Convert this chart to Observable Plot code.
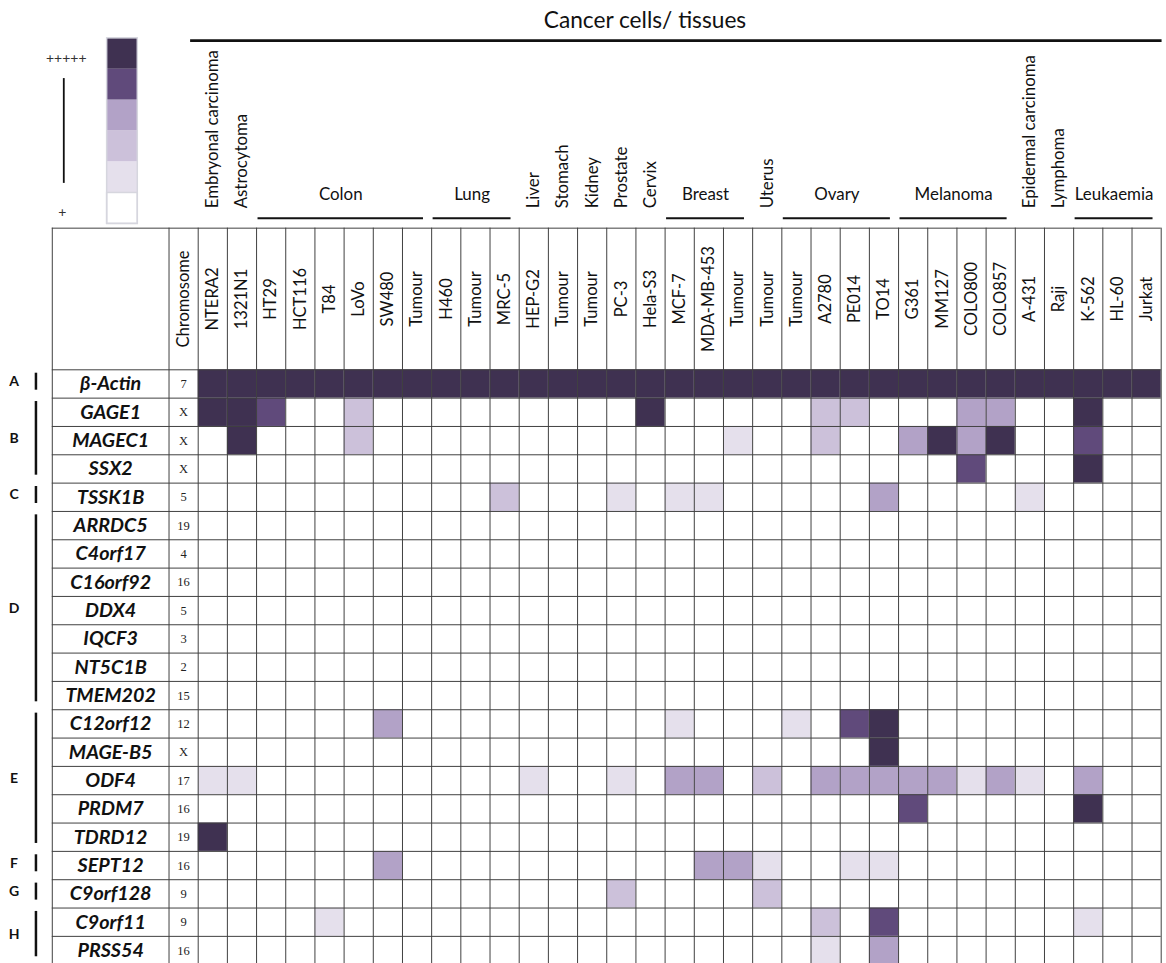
<!DOCTYPE html>
<html><head><meta charset="utf-8">
<script src="https://cdn.jsdelivr.net/npm/d3@7"></script>
<script src="https://cdn.jsdelivr.net/npm/@observablehq/plot@0.6"></script>
<style>
html,body{margin:0;padding:0;background:#fff;overflow:hidden}
#chart svg{display:block}
</style></head><body><div id="chart"></div>
<script>
// ---- data ----
const title = "Cancer cells/ tissues";
const columns = ["NTERA2","1321N1","HT29","HCT116","T84","LoVo","SW480","Tumour","H460","Tumour","MRC-5","HEP-G2","Tumour","Tumour","PC-3","Hela-S3","MCF-7","MDA-MB-453","Tumour","Tumour","Tumour","A2780","PE014","TO14","G361","MM127","COLO800","COLO857","A-431","Raji","K-562","HL-60","Jurkat"];
const tissue = ["Embryonal carcinoma","Astrocytoma","Colon","Colon","Colon","Colon","Colon","Colon","Lung","Lung","Lung","Liver","Stomach","Kidney","Prostate","Cervix","Breast","Breast","Breast","Uterus","Ovary","Ovary","Ovary","Ovary","Melanoma","Melanoma","Melanoma","Melanoma","Epidermal carcinoma","Lymphoma","Leukaemia","Leukaemia","Leukaemia"];
const genes = ["β-Actin","GAGE1","MAGEC1","SSX2","TSSK1B","ARRDC5","C4orf17","C16orf92","DDX4","IQCF3","NT5C1B","TMEM202","C12orf12","MAGE-B5","ODF4","PRDM7","TDRD12","SEPT12","C9orf128","C9orf11","PRSS54"];
const geneGroup = ["A","B","B","B","C","D","D","D","D","D","D","D","E","E","E","E","E","F","G","H","H"];
const chromosomes = ["7","X","X","X","5","19","4","16","5","3","2","15","12","X","17","16","19","16","9","9","16"];
// expression level per gene (0 = none ... 5 = +++++), one value per column
const expression = [
 [5,5,5,5,5,5,5,5,5,5,5,5,5,5,5,5,5,5,5,5,5,5,5,5,5,5,5,5,5,5,5,5,5],
 [5,5,4,0,0,2,0,0,0,0,0,0,0,0,0,5,0,0,0,0,0,2,2,0,0,0,3,3,0,0,5,0,0],
 [0,5,0,0,0,2,0,0,0,0,0,0,0,0,0,0,0,0,1,0,0,2,0,0,3,5,3,5,0,0,4,0,0],
 [0,0,0,0,0,0,0,0,0,0,0,0,0,0,0,0,0,0,0,0,0,0,0,0,0,0,4,0,0,0,5,0,0],
 [0,0,0,0,0,0,0,0,0,0,2,0,0,0,1,0,1,1,0,0,0,0,0,3,0,0,0,0,1,0,0,0,0],
 [0,0,0,0,0,0,0,0,0,0,0,0,0,0,0,0,0,0,0,0,0,0,0,0,0,0,0,0,0,0,0,0,0],
 [0,0,0,0,0,0,0,0,0,0,0,0,0,0,0,0,0,0,0,0,0,0,0,0,0,0,0,0,0,0,0,0,0],
 [0,0,0,0,0,0,0,0,0,0,0,0,0,0,0,0,0,0,0,0,0,0,0,0,0,0,0,0,0,0,0,0,0],
 [0,0,0,0,0,0,0,0,0,0,0,0,0,0,0,0,0,0,0,0,0,0,0,0,0,0,0,0,0,0,0,0,0],
 [0,0,0,0,0,0,0,0,0,0,0,0,0,0,0,0,0,0,0,0,0,0,0,0,0,0,0,0,0,0,0,0,0],
 [0,0,0,0,0,0,0,0,0,0,0,0,0,0,0,0,0,0,0,0,0,0,0,0,0,0,0,0,0,0,0,0,0],
 [0,0,0,0,0,0,0,0,0,0,0,0,0,0,0,0,0,0,0,0,0,0,0,0,0,0,0,0,0,0,0,0,0],
 [0,0,0,0,0,0,3,0,0,0,0,0,0,0,0,0,1,0,0,0,1,0,4,5,0,0,0,0,0,0,0,0,0],
 [0,0,0,0,0,0,0,0,0,0,0,0,0,0,0,0,0,0,0,0,0,0,0,5,0,0,0,0,0,0,0,0,0],
 [1,1,0,0,0,0,0,0,0,0,0,1,0,0,1,0,3,3,0,2,0,3,3,3,3,3,1,3,1,0,3,0,0],
 [0,0,0,0,0,0,0,0,0,0,0,0,0,0,0,0,0,0,0,0,0,0,0,0,4,0,0,0,0,0,5,0,0],
 [5,0,0,0,0,0,0,0,0,0,0,0,0,0,0,0,0,0,0,0,0,0,0,0,0,0,0,0,0,0,0,0,0],
 [0,0,0,0,0,0,3,0,0,0,0,0,0,0,0,0,0,3,3,1,0,0,1,1,0,0,0,0,0,0,0,0,0],
 [0,0,0,0,0,0,0,0,0,0,0,0,0,0,2,0,0,0,0,2,0,0,0,0,0,0,0,0,0,0,0,0,0],
 [0,0,0,0,1,0,0,0,0,0,0,0,0,0,0,0,0,0,0,0,0,2,0,4,0,0,0,0,0,0,1,0,0],
 [0,0,0,0,0,0,0,0,0,0,0,0,0,0,0,0,0,0,0,0,0,1,0,3,0,0,0,0,0,0,0,0,0]
];
const levels = [5,4,3,2,1,0];
const levelColors = ["#ffffff","#e5e0ec","#ccc1da","#b2a2c7","#604a7b","#3f3151"];
const legendTop = "+++++", legendBottom = "+";

// ---- layout (grid units: 1 x-unit = one column, 1 y-unit = one row) ----
const L = {
  tableLeft: -5, chromLeft: -1, headerTop: -5,
  titleX: 15.31, titleY: -12.05, titleLineY: -11.62, titleLineX1: -0.26, titleLineX2: 33.03,
  groupLabelY: -6.0, groupLineY: -5.35, singleLabelY: -5.7, colLabelY: -2.5,
  rowLetterX: -6.31, rowBarX: -5.56,
  legendX1: -3.12, legendX2: -2.07, legendY1: -11.70, legendY2: -5.15,
  plusX: -4.52, plusY: -10.99, scaleX: -4.606, scaleY1: -10.28, scaleY2: -6.58, onePlusX: -4.66, onePlusY: -5.56
};

// font sizing: fit a typeface to the reference text widths
const FONT = "Lato";
const ctx = document.createElement("canvas").getContext("2d");
function fit(style, samples) {
  let s = 0;
  for (const [t, w] of samples) { ctx.font = `${style} 100px ${FONT}`; s += w / ctx.measureText(t).width * 100; }
  return s / samples.length;
}
const fsTitle = fit("normal", [["Cancer cells/ tissues", 203]]);
const fsCol = fit("normal", [["Chromosome", 100], ["MDA-MB-453", 103], ["COLO800", 74]]);
const fsGroup = fit("normal", [["Colon", 42], ["Melanoma", 80], ["Leukaemia", 78], ["Ovary", 45], ["Breast", 49]]);
const fsSingle = fit("normal", [["Embryonal carcinoma", 161], ["Astrocytoma", 95], ["Epidermal carcinoma", 156], ["Lymphoma", 81], ["Stomach", 61]]);
const fsGene = fit("italic bold", [["MAGEC1", 77], ["TMEM202", 92], ["C16orf92", 82], ["MAGE-B5", 86], ["ARRDC5", 72], ["SSX2", 43]]);

// runs of consecutive equal labels
function runs(arr) {
  const out = [];
  arr.forEach((v, i) => {
    const last = out[out.length - 1];
    if (last && last.label === v && last.end === i - 1) last.end = i;
    else out.push({label: v, start: i, end: i});
  });
  return out;
}
const tissueRuns = runs(tissue);
const multi = tissueRuns.filter(r => r.end > r.start);
const single = tissueRuns.filter(r => r.end === r.start);
const rowRuns = runs(geneGroup);

const cells = [];
expression.forEach((row, r) => row.forEach((v, c) => { if (v > 0) cells.push({row: r, col: c, level: v}); }));

const legendH = (L.legendY2 - L.legendY1) / levels.length;
const headerLabels = ["Chromosome", ...columns];
const ink = "#111", gridInk = "#404040";

const chart = Plot.plot({
  width: 1166, height: 963, margin: 0,
  x: {type: "linear", domain: [0, 33], range: [197.7, 1160.7], axis: null},
  y: {type: "linear", domain: [0, 21], range: [369.3, 964.2], axis: null},
  color: {type: "ordinal", domain: [0,1,2,3,4,5], range: levelColors},
  style: {fontFamily: `${FONT}, sans-serif`, background: "#fff", color: ink},
  marks: [
    // title and its rule
    Plot.text([title], {x: L.titleX, y: L.titleY, text: d => d, fontSize: fsTitle, lineAnchor: "bottom", fill: ink}),
    Plot.ruleY([0], {y: L.titleLineY, x1: L.titleLineX1, x2: L.titleLineX2, stroke: "#111", strokeWidth: 2.6}),
    // group headers
    Plot.ruleY(multi, {y: L.groupLineY, x1: r => r.start + 0.05, x2: r => r.end + 1 - 0.28, stroke: "#111", strokeWidth: 2}),
    Plot.text(multi, {x: r => (r.start + r.end + 0.77) / 2, y: L.groupLabelY, text: "label", fontSize: fsGroup, lineAnchor: "bottom", fill: ink}),
    Plot.text(single, {x: r => r.start + 0.5, y: L.singleLabelY, text: "label", rotate: -90, textAnchor: "start", lineAnchor: "middle", fontSize: fsSingle, fill: ink}),
    // legend
    Plot.rect(levels, {x1: L.legendX1, x2: L.legendX2, y1: (d, i) => L.legendY1 + i * legendH, y2: (d, i) => L.legendY1 + (i + 1) * legendH, fill: d => d}),
    Plot.rect([0], {x1: L.legendX1, x2: L.legendX2, y1: L.legendY2 - legendH, y2: L.legendY2, fill: "none", stroke: "#d6d6de", strokeWidth: 1.5}),
    Plot.rect([0], {x1: L.legendX1, x2: L.legendX2, y1: L.legendY1, y2: L.legendY2, fill: "none", stroke: "#d6d6de", strokeWidth: 1.5}),
    Plot.text([legendTop], {x: L.plusX, y: L.plusY, text: d => d, fontSize: 14, fill: "#333"}),
    Plot.ruleX([0], {x: L.scaleX, y1: L.scaleY1, y2: L.scaleY2, stroke: "#111", strokeWidth: 1.8}),
    Plot.text([legendBottom], {x: L.onePlusX, y: L.onePlusY, text: d => d, fontSize: 14, fill: "#333"}),
    // expression cells
    Plot.rect(cells, {x1: "col", x2: d => d.col + 1, y1: "row", y2: d => d.row + 1, fill: "level"}),
    // table grid
    Plot.ruleY([L.headerTop, ...d3.range(0, 22)], {y: d => d, x1: L.tableLeft, x2: 33, stroke: gridInk, strokeWidth: 1}),
    Plot.ruleX([L.tableLeft, L.chromLeft, ...d3.range(0, 34)], {x: d => d, y1: L.headerTop, y2: 21, stroke: gridInk, strokeWidth: 1}),
    // column headers
    Plot.text(headerLabels, {x: (d, i) => i - 0.5, y: L.colLabelY, text: d => d, rotate: -90, textAnchor: "middle", lineAnchor: "middle", fontSize: fsCol, fill: ink}),
    // gene names and chromosomes
    Plot.text(genes, {x: (L.tableLeft + L.chromLeft) / 2, y: (d, i) => i + 0.5, text: d => d, fontSize: fsGene, fontWeight: "bold", fontStyle: "italic", fill: ink}),
    Plot.text(chromosomes, {x: (L.chromLeft + 0) / 2, y: (d, i) => i + 0.5, text: d => d, fontSize: 12.5, fontFamily: "'Liberation Serif', serif", fill: "#222"}),
    // row group letters and bars
    Plot.ruleX(rowRuns, {x: L.rowBarX, y1: r => r.start + 0.12, y2: r => r.end + 1 - 0.28, stroke: "#111", strokeWidth: 2.5}),
    Plot.text(rowRuns, {x: L.rowLetterX, y: r => (r.start + r.end + 1) / 2 - 0.08, text: "label", fontSize: 14, fontWeight: "bold", fill: ink})
  ]
});
document.getElementById("chart").appendChild(chart);
</script>
</body></html>
